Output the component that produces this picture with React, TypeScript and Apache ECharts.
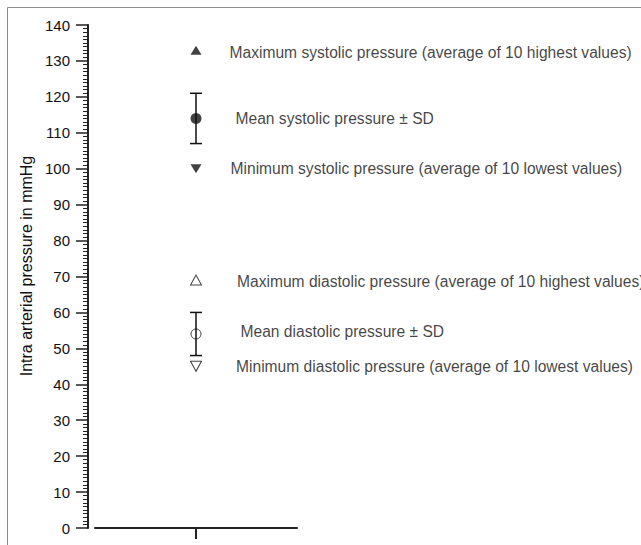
import React, { useEffect, useRef } from "react";
import * as echarts from "echarts";

const categories = [""];
const maxSystolic = [133];
const meanSystolic = [114];
const sdSystolic = [7];
const minSystolic = [100];
const maxDiastolic = [69];
const meanDiastolic = [54];
const sdDiastolic = [6];
const minDiastolic = [45];
const yMin = 0;
const yMax = 140;
const yInterval = 10;
const yAxisTitle = "Intra arterial pressure in mmHg";
const seriesNames = [
  "Maximum systolic pressure (average of 10 highest values)",
  "Mean systolic pressure \u00b1 SD",
  "Minimum systolic pressure (average of 10 lowest values)",
  "Maximum diastolic pressure (average of 10 highest values)",
  "Mean diastolic pressure \u00b1 SD",
  "Minimum diastolic pressure (average of 10 lowest values)",
];

const FONT = "'Liberation Sans', Arial, Helvetica, sans-serif";
const INK = "#111";

export default function App() {
  const ref = useRef<HTMLDivElement>(null);
  useEffect(() => {
    if (!ref.current) return;
    const chart = echarts.init(ref.current, null, { renderer: "svg" });

    const pts = (vals: number[]) => vals.map((v, i) => [i, v]);
    const label = (distance: number, dy: number) => ({
      show: true,
      position: "right" as const,
      distance,
      offset: [0, dy],
      formatter: (p: any) => p.seriesName,
      color: INK,
      fontSize: 15.6,
      fontFamily: FONT,
    });

    const errData = [
      ...meanSystolic.map((m, i) => [i, m - sdSystolic[i], m + sdSystolic[i]]),
      ...meanDiastolic.map((m, i) => [i, m - sdDiastolic[i], m + sdDiastolic[i]]),
    ];

    chart.setOption({
      animation: false,
      backgroundColor: "#fff",
      grid: { left: 95, right: 344, top: 25, bottom: 17, containLabel: false, outerBoundsMode: "none" },
      xAxis: {
        type: "category",
        data: categories,
        boundaryGap: true,
        axisLine: { lineStyle: { color: "#222", width: 2 } },
        axisTick: { show: true, alignWithLabel: true, interval: 0, length: 11, lineStyle: { color: "#222", width: 2 } },
        axisLabel: { show: true, interval: 0, margin: 0, fontSize: 1, color: "rgba(0,0,0,0)", formatter: () => " " },
        splitLine: { show: false },
      },
      yAxis: {
        type: "value",
        min: yMin,
        max: yMax,
        interval: yInterval,
        offset: 7,
        axisLine: { show: true, lineStyle: { color: "#222", width: 2 } },
        axisTick: { show: true, length: 12, lineStyle: { color: "#222", width: 1.5 } },
        minorTick: { show: true, splitNumber: 10, length: 5, lineStyle: { color: "#222", width: 1 } },
        axisLabel: { color: INK, fontSize: 15, fontFamily: FONT, margin: 18 },
        splitLine: { show: false },
      },
      graphic: [
        { type: "line", shape: { x1: 7.5, y1: 7.5, x2: 641, y2: 7.5 }, style: { stroke: "#8c8c8c", lineWidth: 1 } },
        { type: "line", shape: { x1: 7.5, y1: 7.5, x2: 7.5, y2: 545 }, style: { stroke: "#8c8c8c", lineWidth: 1 } },
        {
          type: "text",
          x: 26,
          y: 266,
          rotation: Math.PI / 2,
          style: {
            text: yAxisTitle,
            fill: INK,
            fontSize: 16,
            fontFamily: FONT,
            textAlign: "center",
            textVerticalAlign: "middle",
          },
        },
      ],
      series: [
        {
          type: "custom",
          name: "SD",
          data: errData,
          z: 3,
          renderItem: (params: any, api: any) => {
            const x = api.value(0);
            const lo = api.coord([x, api.value(1)]);
            const hi = api.coord([x, api.value(2)]);
            const w = 6;
            const st = { stroke: INK, lineWidth: 1.5 };
            return {
              type: "group",
              children: [
                { type: "line", shape: { x1: lo[0], y1: lo[1], x2: hi[0], y2: hi[1] }, style: st },
                { type: "line", shape: { x1: lo[0] - w, y1: lo[1], x2: lo[0] + w, y2: lo[1] }, style: st },
                { type: "line", shape: { x1: hi[0] - w, y1: hi[1], x2: hi[0] + w, y2: hi[1] }, style: st },
              ],
            };
          },
        },
        {
          type: "scatter",
          name: seriesNames[0],
          data: pts(maxSystolic),
          symbol: "triangle",
          symbolSize: [11, 9],
          itemStyle: { color: INK },
          label: label(28, 2),
          z: 4,
        },
        {
          type: "scatter",
          name: seriesNames[1],
          data: pts(meanSystolic),
          symbol: "circle",
          symbolSize: 11,
          itemStyle: { color: INK },
          label: label(34, 0),
          z: 4,
        },
        {
          type: "scatter",
          name: seriesNames[2],
          data: pts(minSystolic),
          symbol: "triangle",
          symbolRotate: 180,
          symbolSize: [11, 9],
          itemStyle: { color: INK },
          label: label(29, 0),
          z: 4,
        },
        {
          type: "scatter",
          name: seriesNames[3],
          data: pts(maxDiastolic),
          symbol: "triangle",
          symbolSize: [11, 10],
          itemStyle: { color: "#fff", borderColor: INK, borderWidth: 1 },
          label: label(35, 1),
          z: 4,
        },
        {
          type: "scatter",
          name: seriesNames[4],
          data: pts(meanDiastolic),
          symbol: "circle",
          symbolSize: 10,
          itemStyle: { color: "rgba(0,0,0,0)", borderColor: INK, borderWidth: 1 },
          label: label(39, -2),
          z: 4,
        },
        {
          type: "scatter",
          name: seriesNames[5],
          data: pts(minDiastolic),
          symbol: "triangle",
          symbolRotate: 180,
          symbolSize: [11, 10],
          itemStyle: { color: "#fff", borderColor: INK, borderWidth: 1 },
          label: label(34, 0),
          z: 4,
        },
      ],
    });
    return () => chart.dispose();
  }, []);

  return (
    <div
      ref={ref}
      style={{ position: "fixed", left: 0, top: 0, width: 641, height: 545, background: "#fff" }}
    />
  );
}
